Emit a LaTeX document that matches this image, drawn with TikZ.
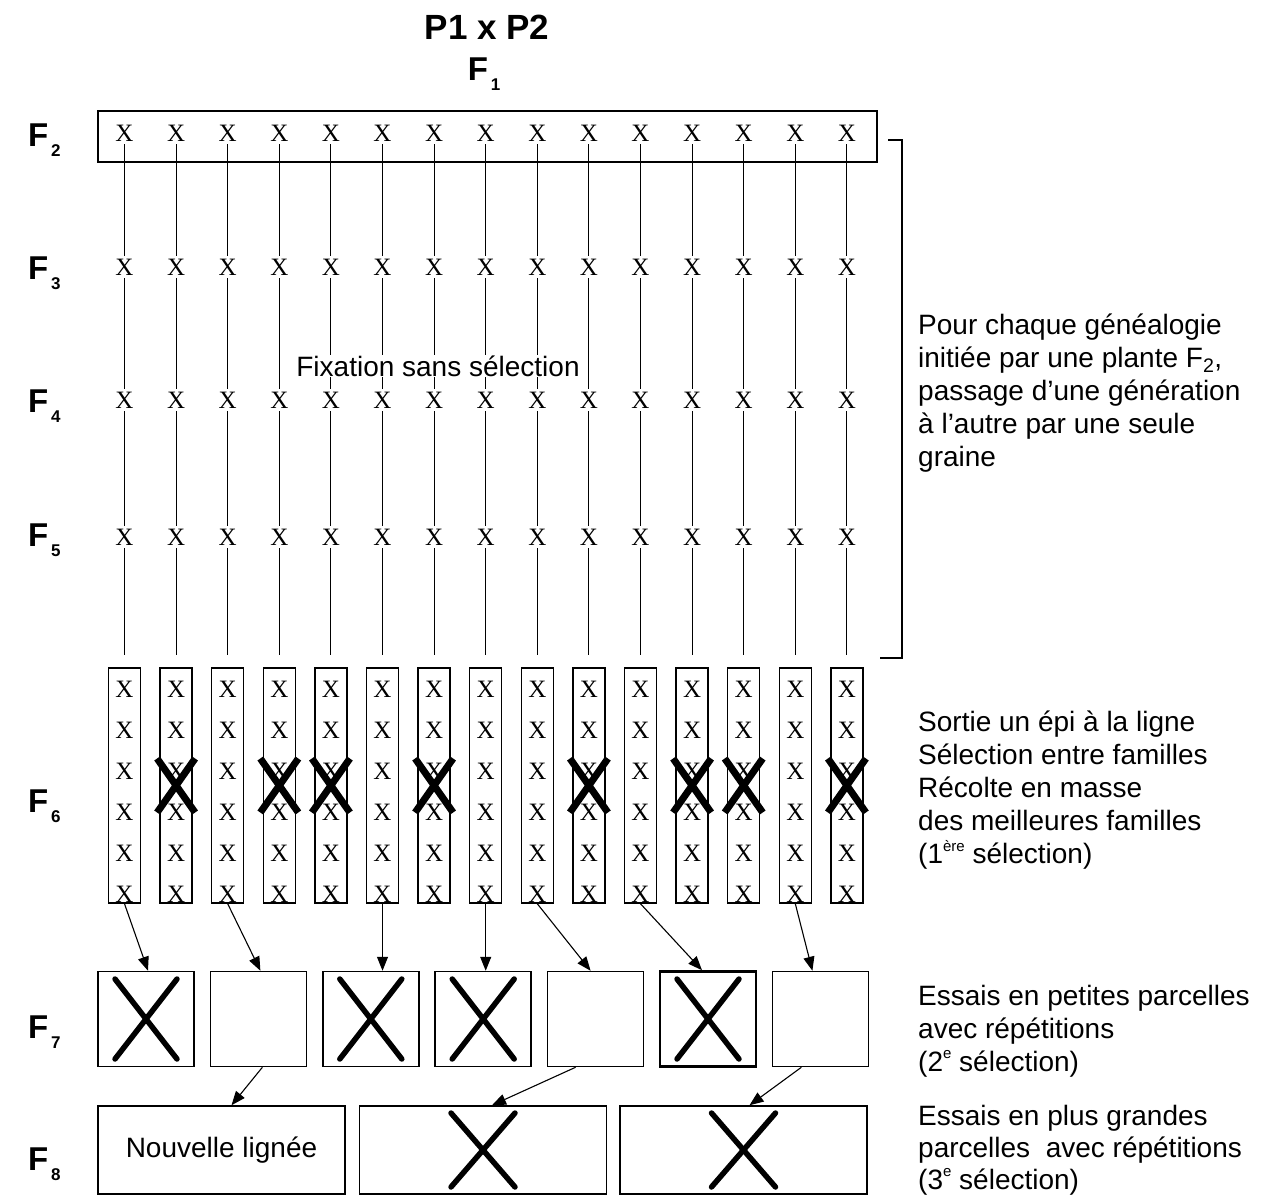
\documentclass[tikz,border=0pt]{standalone}
\usepackage{fontspec}
\setmainfont{Liberation Sans}
\newfontfamily\serifx{Liberation Serif}
\usetikzlibrary{arrows.meta,calc}
\newcommand\gensub[1]{\raisebox{-0.32em}{\fontsize{17}{17}\selectfont\,#1}}
\newcommand\supsm[1]{\raisebox{0.45em}{\fontsize{15}{15}\selectfont #1}}
\begin{document}
\begin{tikzpicture}[x=1pt,y=-1pt,
  lbl/.style={font=\bfseries\fontsize{33}{33}\selectfont, inner sep=0pt, anchor=base west},
  plant/.style={font=\serifx\fontsize{25}{25}\selectfont, inner sep=3pt},
  link/.style={line width=1.1pt},
  fam/.style={draw, line width=1.5pt, minimum width=32pt, minimum height=235pt, inner sep=0pt},
  plot/.style={draw, line width=1.5pt, minimum width=96pt, minimum height=95pt, inner sep=0pt},
  bigplot/.style={draw, line width=1.5pt, minimum width=247pt, minimum height=88pt, inner sep=0pt},
  arr/.style={line width=1.1pt, -{Triangle[length=14pt,width=11pt]}},
  bigcross/.style={line width=7pt},
  cross/.style={line width=5.5pt, line cap=round},
  note/.style={font=\fontsize{28}{33}\selectfont, align=left, anchor=north west, inner sep=0pt},
]
\useasboundingbox (0,0) rectangle (1276,1199);

% title
\node[font=\bfseries\fontsize{35}{35}\selectfont, inner sep=0pt, anchor=base] (title) at (487,40) {P1 x P2};
\node[font=\bfseries\fontsize{33}{33}\selectfont, inner sep=0pt, anchor=base] (f1) at (484,80) {F\gensub{1}};

% generation labels
\node[lbl] (lf2) at (28,146) {F\gensub{2}};
\node[lbl] (lf3) at (28,279) {F\gensub{3}};
\node[lbl] (lf4) at (28,412) {F\gensub{4}};
\node[lbl] (lf5) at (28,546) {F\gensub{5}};
\node[lbl] (lf6) at (28,812) {F\gensub{6}};
\node[lbl] (lf7) at (28,1038) {F\gensub{7}};
\node[lbl] (lf8) at (28,1170) {F\gensub{8}};

% F2 box
\node[draw, line width=1.5pt, minimum width=779pt, minimum height=51pt, inner sep=0pt] (f2box) at (487.5,136.5) {};

% plants F2..F5
\foreach \r/\yy in {2/133,3/267,4/400,5/537} {
  \foreach \i in {1,...,15} {
    \node[plant] (p\r-\i) at ({124.5+51.6*(\i-1)},\yy) {X};
  }
}

% F6 family rows
\foreach \i in {1,...,15} {
  \node[fam] (f6-\i) at ({124.5+51.6*(\i-1)},785.5) {};
  \foreach \k in {1,...,6} {
    \node[plant] (f6-\i-\k) at ({124.5+51.6*(\i-1)},{689+41*(\k-1)}) {X};
  }
}

% single-seed lines
\foreach \i in {1,...,15} {
  \draw[link] (p2-\i) -- (p3-\i);
  \draw[link] (p3-\i) -- (p4-\i);
  \draw[link] (p4-\i) -- (p5-\i);
  \draw[link, shorten >=12pt] (p5-\i) -- (f6-\i.north);
}

\node[fill=white, inner sep=1pt, font=\fontsize{28}{28}\selectfont] (fix) at (438,366) {Fixation sans sélection};

% crossed families
\foreach \i in {2,4,5,7,10,12,13,15} {
  \draw[bigcross] ($(f6-\i.center)+(-19,-27)$) -- ($(f6-\i.center)+(19,27)$);
  \draw[bigcross] ($(f6-\i.center)+(19,-27)$) -- ($(f6-\i.center)+(-19,27)$);
}

% bracket
\draw[line width=1.3pt] (888,140) -- (902,140) -- (902,658) -- (880,658);

% F7 plots
\foreach \j in {1,2,3,4,5,7} {
  \node[plot] (f7-\j) at ({146+112.4*(\j-1)},1019) {};
}
\node[plot, line width=2.6pt] (f7-6) at ({146+112.4*5},1019) {};
\foreach \j in {1,3,4,6} {
  \draw[cross] ($(f7-\j.center)+(-31,-40)$) -- ($(f7-\j.center)+(31,40)$);
  \draw[cross] ($(f7-\j.center)+(31,-40)$) -- ($(f7-\j.center)+(-31,40)$);
}

% F8 plots
\node[bigplot] (f8-1) at (221.5,1150) {\fontsize{28}{28}\selectfont Nouvelle lignée};
\node[bigplot] (f8-2) at (483,1150) {};
\node[bigplot] (f8-3) at (743.5,1150) {};
\foreach \j in {2,3} {
  \draw[cross] ($(f8-\j.center)+(-32,-37)$) -- ($(f8-\j.center)+(32,37)$);
  \draw[cross] ($(f8-\j.center)+(32,-37)$) -- ($(f8-\j.center)+(-32,37)$);
}

% arrows F6 -> F7
\draw[arr] (f6-1.south) -- ([xshift=2pt]f7-1.north);
\draw[arr] (f6-3.south) -- ([xshift=2pt]f7-2.north);
\draw[arr] (f6-6.south) -- (f6-6.south |- f7-3.north);
\draw[arr] (f6-8.south) -- (f6-8.south |- f7-4.north);
\draw[arr] (f6-9.south) -- ([xshift=-5pt]f7-5.north);
\draw[arr] (f6-11.south) -- ([xshift=-6pt]f7-6.north);
\draw[arr] (f6-14.south) -- ([xshift=-8pt]f7-7.north);

% arrows F7 -> F8
\draw[arr] ([xshift=4pt]f7-2.south) -- ([xshift=10pt]f8-1.north);
\draw[arr] ([xshift=-20pt]f7-5.south) -- ([xshift=9pt]f8-2.north);
\draw[arr] ([xshift=-19pt]f7-7.south) -- ([xshift=6pt]f8-3.north);

% notes
\node[note] (n1) at (918,314) {Pour chaque généalogie\\initiée par une plante F\textsubscript{2},\\passage d’une génération\\à l’autre par une seule\\graine};
\node[note] (n2) at (918,711) {Sortie un épi à la ligne\\Sélection entre familles\\Récolte en masse\\des meilleures familles\\(1\supsm{ère} sélection)};
\node[note] (n3) at (918,984.5) {Essais en petites parcelles\\avec répétitions\\(2\supsm{e} sélection)};
\node[note, font=\fontsize{28}{32}\selectfont] (n4) at (918,1105) {Essais en plus grandes\\parcelles~ avec répétitions\\(3\supsm{e} sélection)};
\end{tikzpicture}
\end{document}
